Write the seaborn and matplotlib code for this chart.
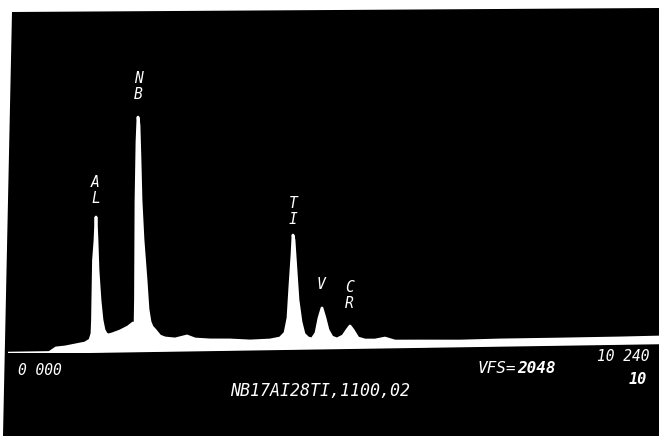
"""
EDS spectrum screen photo, NB17AI28TI sample - redrawn with seaborn.
"""

import matplotlib
matplotlib.use("Agg")
import matplotlib.pyplot as plt
import seaborn as sns
from matplotlib.patches import Polygon
from matplotlib.transforms import Affine2D

W, H = 659, 436

# spectrum outline (energy in keV, counts)
energy_kev = [
    0.672, 0.768, 0.912, 1.072, 1.232, 1.312, 1.344, 1.352, 1.368, 1.392,
    1.408, 1.424, 1.440, 1.472, 1.504, 1.536, 1.568, 1.600, 1.664, 1.792,
    1.920, 2.000, 2.032, 2.040, 2.048, 2.064, 2.080, 2.096, 2.112, 2.128,
    2.160, 2.208, 2.240, 2.272, 2.304, 2.352, 2.432, 2.512, 2.672, 2.864,
    2.992, 3.232, 3.552, 3.872, 4.192, 4.352, 4.432, 4.480, 4.512, 4.544,
    4.560, 4.576, 4.608, 4.640, 4.688, 4.736, 4.800, 4.864, 4.928, 4.976,
    5.024, 5.072, 5.120, 5.184, 5.264, 5.360, 5.424, 5.472, 5.520, 5.600,
    5.712, 5.872, 6.032, 6.192, 6.592, 7.232, 7.872, 8.832, 9.792, 10.416,
]
counts = [
    2, 26, 31, 42, 53, 71, 110, 190, 550, 670,
    811, 670, 490, 310, 190, 130, 108, 99, 105, 122,
    146, 169, 130, 310, 900, 1260, 1409, 1360, 1150, 910,
    670, 430, 250, 175, 145, 125, 88, 76, 69, 86,
    67, 60, 58, 50, 54, 65, 95, 185, 383, 564,
    684, 654, 473, 292, 160, 87, 63, 56, 92, 182,
    242, 181, 109, 66, 54, 72, 107, 131, 107, 58,
    45, 44, 55, 36, 34, 30, 33, 33, 34, 36,
]

# element markers (label, energy of label, counts at bottom of label)
peak_labels = ["A\nL", "N\nB", "T\nI", "V", "C\nR"]
peak_energy = [1.40, 2.09, 4.56, 5.00, 5.46]
peak_label_counts = [880, 1500, 735, 340, 222]

FS_COUNTS = 2048
E_MAX = 10.416

sns.set_style("white")
MONO = ["DejaVu Sans Mono"]

fig = plt.figure(figsize=(W / 100, H / 100), dpi=100, facecolor="white")

# the black CRT face (photo is slightly skewed)
screen = Polygon([(12 / W, 1 - 12 / H), (1.0, 1 - 8 / H), (1.0, 0.0), (3 / W, 0.0)],
                 closed=True, transform=fig.transFigure, facecolor="black",
                 edgecolor="none", zorder=-10)
fig.patches.append(screen)

ax = fig.add_axes([8 / W, (H - 353) / H, (W - 8) / W, 340 / H])
ax.patch.set_alpha(0)
ax.set_xlim(0, E_MAX)
ax.set_ylim(0, FS_COUNTS)
ax.axis("off")

# the baseline on the photo climbs about 10 px over the width
skew = ax.transData + (Affine2D().translate(-8, -(H - 353))
                       .skew_deg(0, 0.88).translate(8, H - 353))

# thick outline mimics the bloom of the CRT trace
sns.lineplot(x=energy_kev, y=counts, color="white", linewidth=2.0, ax=ax)
ax.fill_between(energy_kev, counts, 0, color="white", linewidth=0)
ax.plot([0, E_MAX], [0, 0], color="white", linewidth=1.8, solid_capstyle="round")

for line in ax.lines:
    line.set_transform(skew)
for coll in ax.collections:
    coll.set_transform(skew)

for lab, e, c in zip(peak_labels, peak_energy, peak_label_counts):
    ax.text(e, c, lab, transform=skew, color="white", ha="center", va="bottom",
            family=MONO, style="oblique", fontsize=10.5, linespacing=1.05)


def ftext(x, y, s, **kw):
    fig.text(x / W, 1 - y / H, s, color="white", family=MONO,
             style="oblique", va="center", **kw)


ftext(18, 370, "0 000", fontsize=10.5)
ftext(477, 368, "VFS=", fontsize=11.5)
ftext(517, 368, "2048", fontsize=11.5, fontweight="bold")
ftext(597, 356, "10 240", fontsize=10.5)
ftext(629, 379, "10", fontsize=11, fontweight="bold")
ftext(320, 391, "NB17AI28TI,1100,02", fontsize=12, ha="center")

fig.savefig("out.png", dpi=100, facecolor="white")
plt.close(fig)
